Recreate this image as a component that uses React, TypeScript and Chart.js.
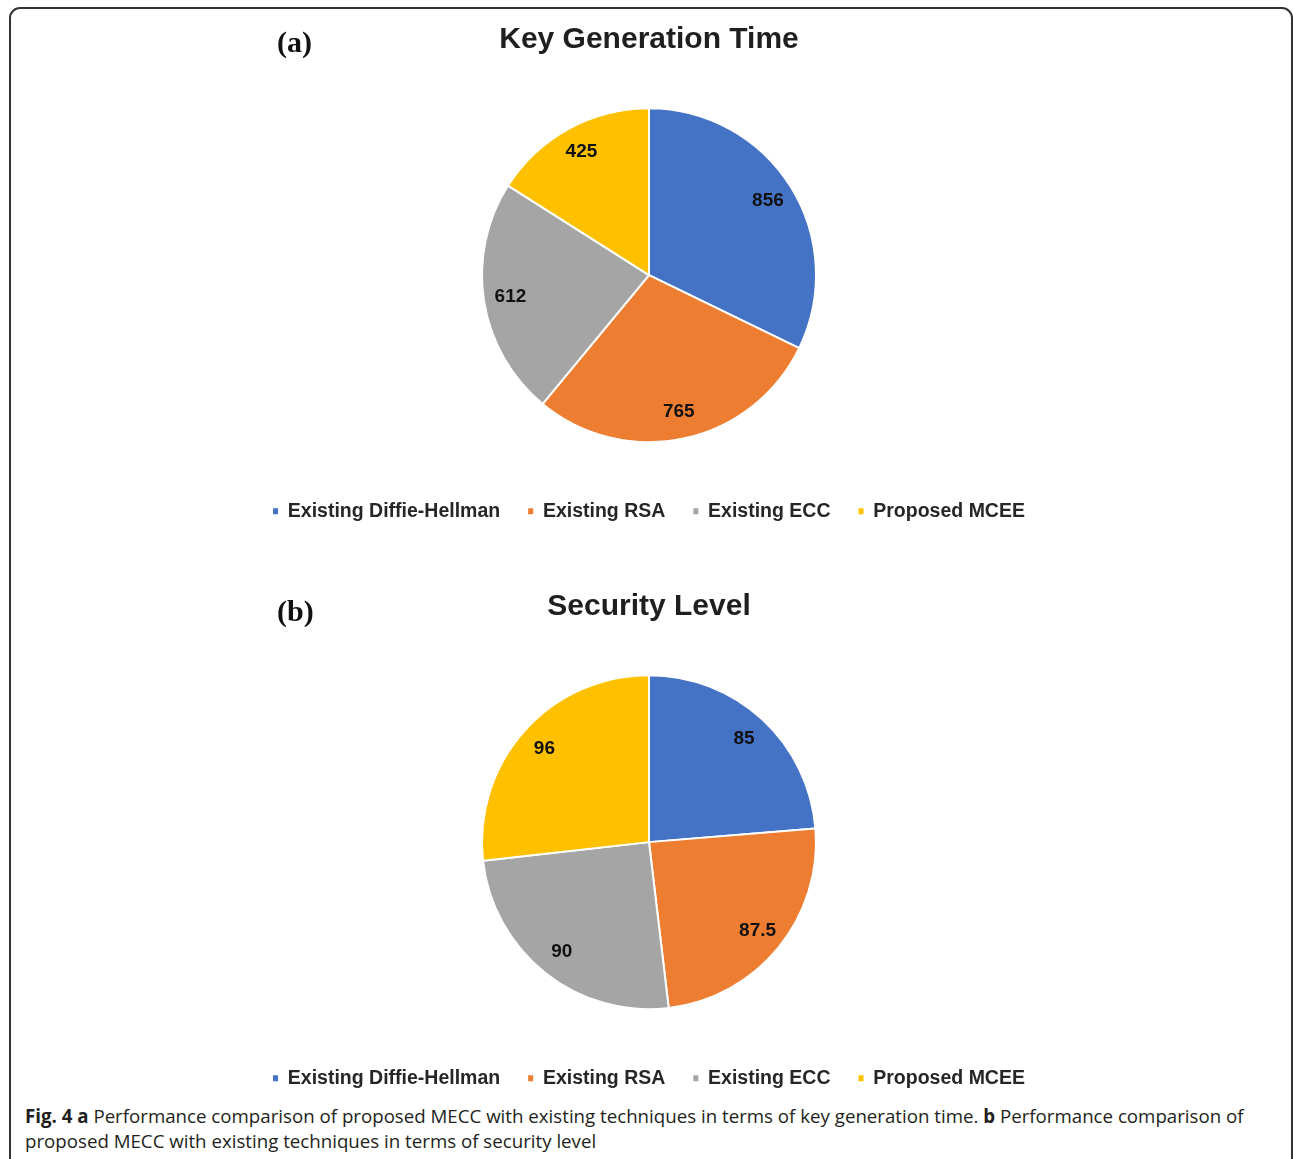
import React, { useEffect, useRef } from "react";
import { Chart, registerables } from "chart.js";

Chart.register(...registerables);

const categories = ["Existing Diffie-Hellman", "Existing RSA", "Existing ECC", "Proposed MCEE"];
const keyGenerationTimeValues = [856, 765, 612, 425];
const securityLevelValues = [85, 87.5, 90, 96];
const sliceColors = ["#4472C4", "#ED7D31", "#A5A5A5", "#FFC000"];
const titleA = "Key Generation Time";
const titleB = "Security Level";

const SANS = "'Liberation Sans', Arial, sans-serif";

const valueLabelPlugin = {
  id: "valueLabels",
  afterDatasetsDraw(chart: any) {
    const ctx = chart.ctx;
    const meta = chart.getDatasetMeta(0);
    const data = chart.data.datasets[0].data;
    ctx.save();
    ctx.font = `bold 19px ${SANS}`;
    ctx.fillStyle = "#111";
    ctx.textAlign = "center";
    ctx.textBaseline = "middle";
    meta.data.forEach((arc: any, i: number) => {
      const p = arc.getProps(["x", "y", "startAngle", "endAngle", "outerRadius"], true);
      const mid = (p.startAngle + p.endAngle) / 2;
      const r = p.outerRadius * 0.84;
      ctx.fillText(String(data[i]), p.x + Math.cos(mid) * r, p.y + Math.sin(mid) * r);
    });
    ctx.restore();
  },
};

function PieChart({ title, values, top }: { title: string; values: number[]; top: number }) {
  const ref = useRef<HTMLCanvasElement | null>(null);
  useEffect(() => {
    if (!ref.current) return;
    const baseGen = (Chart as any).overrides.pie.plugins.legend.labels.generateLabels;
    const chart = new Chart(ref.current, {
      type: "pie",
      data: {
        labels: categories,
        datasets: [
          {
            data: values,
            backgroundColor: sliceColors,
            borderColor: "#ffffff",
            borderWidth: 2,
            radius: 167,
            hoverOffset: 0,
          } as any,
        ],
      },
      options: {
        responsive: false,
        animation: false,
        layout: { padding: 0 },
        plugins: {
          title: {
            display: true,
            text: title,
            color: "#1f1f1f",
            font: { family: SANS, size: 30, weight: "bold" },
            padding: { top: 22, bottom: 18.75 },
          },
          legend: {
            position: "bottom",
            labels: {
              boxWidth: 5,
              boxHeight: 6,
              padding: 28,
              color: "#262626",
              font: { family: SANS, size: 19.5, weight: "bold" },
              generateLabels: (c: any) =>
                baseGen(c).map((l: any) => ({ ...l, lineWidth: 0, strokeStyle: "rgba(0,0,0,0)" })),
            },
          },
          tooltip: { enabled: false },
        },
      } as any,
      plugins: [valueLabelPlugin],
    });
    return () => chart.destroy();
  }, [title, values]);
  return (
    <canvas
      ref={ref}
      width={1280}
      height={531}
      style={{ position: "absolute", left: 9, top, width: 1280, height: 531 }}
    />
  );
}

const panelLabel: React.CSSProperties = {
  position: "absolute",
  fontFamily: "'Liberation Serif', 'Times New Roman', serif",
  fontWeight: "bold",
  fontSize: 30,
  lineHeight: "30px",
  color: "#111",
};

export default function App() {
  return (
    <div
      style={{
        position: "absolute",
        left: 0,
        top: 0,
        width: 1293,
        height: 1159,
        overflow: "hidden",
        background: "#fff",
      }}
    >
      <div
        style={{
          position: "absolute",
          left: 9,
          top: 7,
          width: 1284,
          height: 1200,
          border: "2px solid #333",
          borderRadius: 11,
          boxSizing: "border-box",
        }}
      />
      <PieChart title={titleA} values={keyGenerationTimeValues} top={0} />
      <PieChart title={titleB} values={securityLevelValues} top={567} />
      <div style={{ ...panelLabel, left: 277, top: 27 }}>(a)</div>
      <div style={{ ...panelLabel, left: 277, top: 596 }}>(b)</div>
      <div
        style={{
          position: "absolute",
          left: 25,
          top: 1103,
          width: 1250,
          fontFamily: "'Open Sans', 'Noto Sans', sans-serif",
          fontSize: 18.7,
          lineHeight: "25px",
          color: "#231f20",
        }}
      >
        <b>Fig. 4 a</b> Performance comparison of proposed MECC with existing techniques in terms of key generation time. <b>b</b> Performance comparison of proposed MECC with existing techniques in terms of security level
      </div>
    </div>
  );
}
